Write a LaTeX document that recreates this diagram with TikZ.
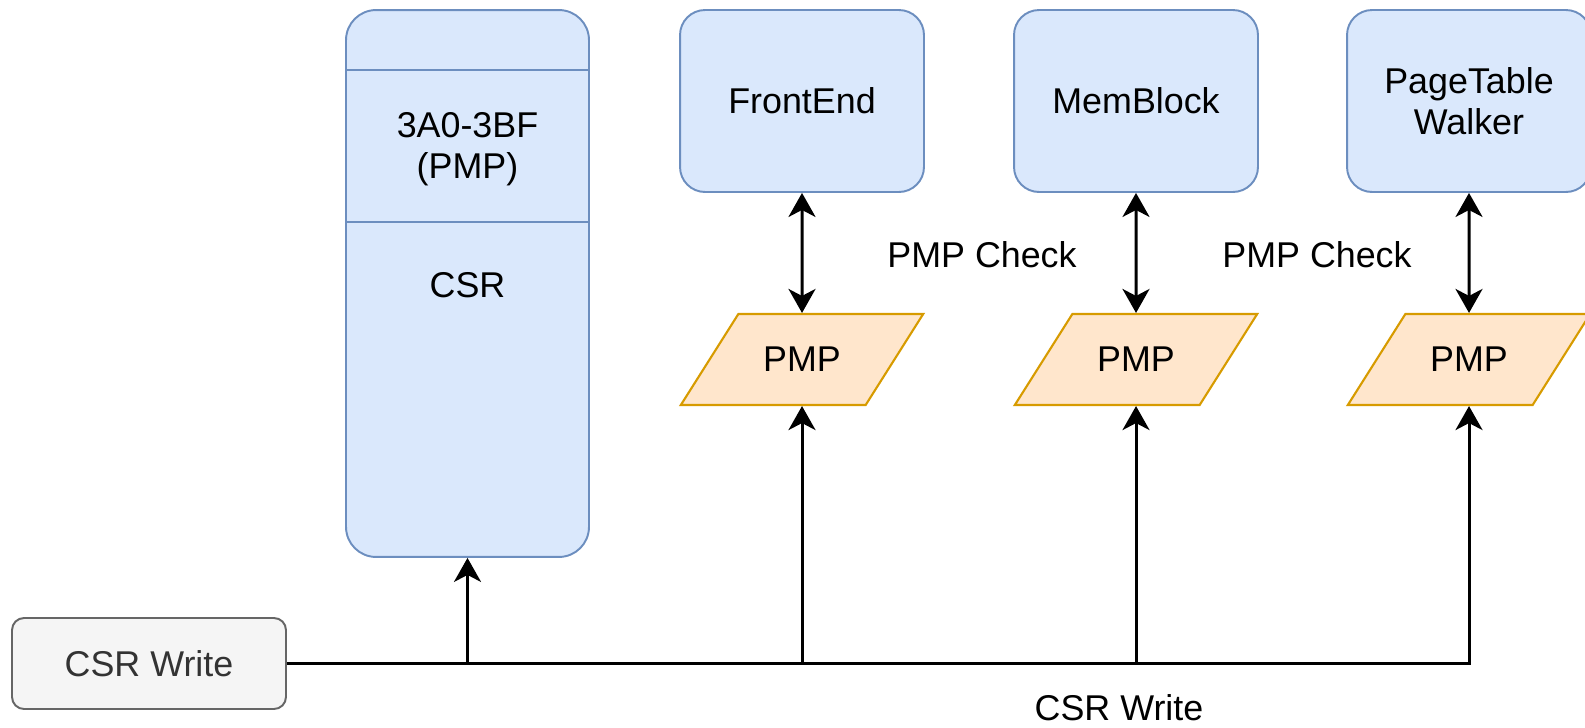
\documentclass[tikz,border=0pt]{standalone}
\usepackage{fontspec}
\setmainfont{Liberation Sans}
\usetikzlibrary{arrows.meta,shapes.geometric}
\definecolor{unitfill}{HTML}{DAE8FC}
\definecolor{unitline}{HTML}{6C8EBF}
\definecolor{pmpfill}{HTML}{FFE6CC}
\definecolor{pmpline}{HTML}{D79B00}
\definecolor{srcfill}{HTML}{F5F5F5}
\definecolor{srcline}{HTML}{666666}
\definecolor{srctext}{HTML}{333333}
\begin{document}
\begin{tikzpicture}[x=0.02cm,y=-0.02cm,>={Stealth[length=0.48cm,width=0.54cm,inset=0.14cm]},
		font=\fontsize{20.4}{23}\selectfont,
		unit/.style={draw=unitline,fill=unitfill,line width=1.1pt,rounded corners=0.5cm,
			minimum width=4.88cm,minimum height=3.64cm,align=center},
		pmp/.style={trapezium,trapezium left angle=42,trapezium right angle=138,trapezium stretches=true,
			draw=pmpline,fill=pmpfill,line width=1.2pt,minimum width=4.86cm,minimum height=1.82cm},
		wire/.style={line width=1.7pt}]
		\useasboundingbox (0,0) rectangle (1585,727);
		% csr file
		\node[draw=unitline,fill=unitfill,line width=1.1pt,rounded corners=0.6cm,
			minimum width=4.86cm,minimum height=10.94cm] (csr) at (467.5,283.5) {};
		\draw[unitline,line width=1.1pt] (346,70) -- (589,70) (346,222) -- (589,222);
		\node[align=center] (csrpmp) at (467.5,149) {3A0-3BF\\(PMP)};
		\node (csrname) at (467.5,285) {CSR};
		% units
		\node[unit] (fe) at (802,101) {FrontEnd};
		\node[unit] (mb) at (1136,101) {MemBlock};
		\node[unit] (ptw) at (1469,101) {PageTable\\Walker};
		\node[pmp] (p1) at (802,359.5) {PMP};
		\node[pmp] (p2) at (1136,359.5) {PMP};
		\node[pmp] (p3) at (1469,359.5) {PMP};
		\node[draw=srcline,fill=srcfill,text=srctext,line width=1.1pt,rounded corners=0.24cm,
			minimum width=5.48cm,minimum height=1.82cm] (src) at (149,663.5) {CSR Write};
		% links
		\draw[wire,<->] (fe.south) -- (p1.north);
		\draw[wire,<->] (mb.south) -- (p2.north);
		\draw[wire,<->] (ptw.south) -- (p3.north);
		\draw[wire,->] (src.east) -| (p3.south);
		\draw[wire,->] (src.east -| csr.south) -- (csr.south);
		\draw[wire,->] (src.east -| p1.south) -- (p1.south);
		\draw[wire,->] (src.east -| p2.south) -- (p2.south);
		\node (chk1) at (982,255) {PMP Check};
		\node (chk2) at (1317,255) {PMP Check};
		\node[inner sep=0pt] (bus) at (1119,708) {CSR Write};
\end{tikzpicture}
\end{document}
